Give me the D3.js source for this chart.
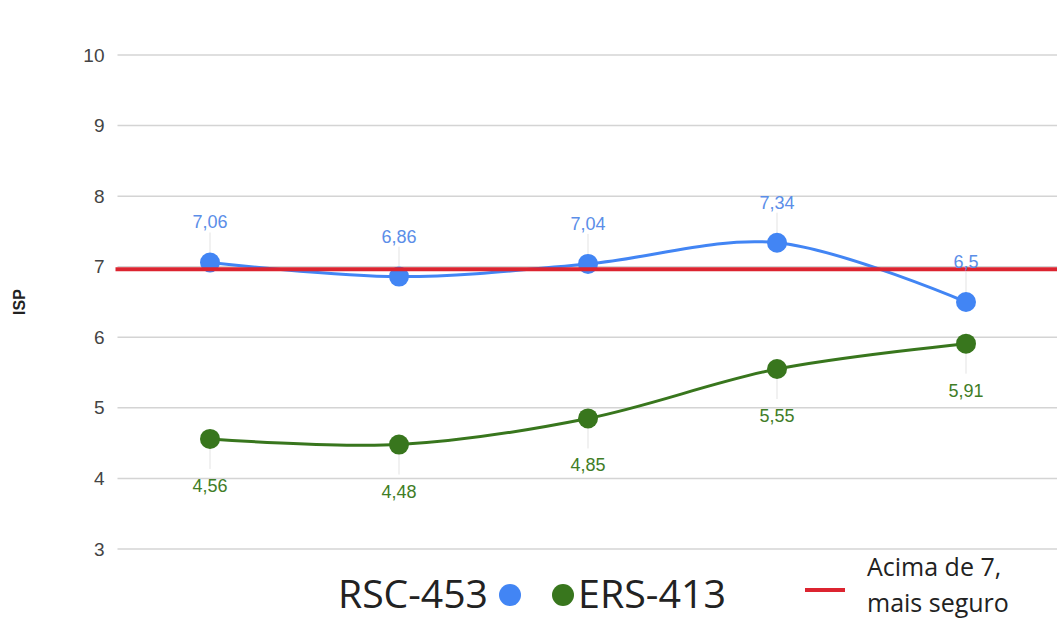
<!DOCTYPE html>
<html>
<head>
<meta charset="utf-8">
<script src="https://cdn.jsdelivr.net/npm/d3@7"></script>
<style>
  html, body { margin: 0; padding: 0; background: #fff; }
  svg { display: block; }
</style>
</head>
<body>
<svg id="chart" width="1057" height="619"></svg>
<script>
// ISP per period for two series, plus a reference threshold
const categories = ["P1", "P2", "P3", "P4", "P5"];
const rscValues = [7.06, 6.86, 7.04, 7.34, 6.5];
const ersValues = [4.56, 4.48, 4.85, 5.55, 5.91];
const threshold = 7;
const yTicks = [3, 4, 5, 6, 7, 8, 9, 10];
const seriesNames = ["RSC-453", "ERS-413"];
const thresholdLabel = ["Acima de 7,", "mais seguro"];

const svg = d3.select("#chart");
const W = 1057, H = 619;
const margin = { left: 115.5, right: -3.5, top: 55, bottom: 70 };

const x = d3.scalePoint()
  .domain(categories)
  .range([margin.left, W - margin.right])
  .padding(0.5);

const y = d3.scaleLinear()
  .domain([3, 10])
  .range([H - margin.bottom, margin.top]);

const blue = "#4285f4";
const green = "#38761d";
const red = "#dc2430";
const fmt = v => String(v).replace(".", ",");

// Gridlines
svg.append("g")
  .selectAll("line")
  .data(yTicks)
  .join("line")
  .attr("x1", margin.left + 2)
  .attr("x2", W)
  .attr("y1", d => y(d))
  .attr("y2", d => y(d))
  .attr("stroke", "#d4d4d4")
  .attr("stroke-width", 1.5);

// Y axis labels
const yAxis = d3.axisLeft(y).tickValues(yTicks).tickFormat(d3.format("d")).tickSize(0).tickPadding(0);
const gy = svg.append("g")
  .attr("transform", `translate(${margin.left - 11},0)`)
  .call(yAxis);
gy.select(".domain").remove();
gy.selectAll("text")
  .attr("font-family", "Liberation Sans, Arial, sans-serif")
  .attr("font-size", 19)
  .attr("fill", "#444");

// Axis title
svg.append("text")
  .attr("transform", `translate(25,${y(6.5)}) rotate(-90)`)
  .attr("text-anchor", "middle")
  .attr("font-family", "Liberation Sans, Arial, sans-serif")
  .attr("font-weight", "bold")
  .attr("font-size", 16)
  .attr("fill", "#222")
  .text("ISP");

const line = d3.line()
  .x((d, i) => x(categories[i]))
  .y(d => y(d))
  .curve(d3.curveCatmullRom.alpha(0.5));

// Leader lines for data labels
function leaders(values, dir) {
  svg.append("g")
    .selectAll("line")
    .data(values)
    .join("line")
    .attr("x1", (d, i) => x(categories[i]))
    .attr("x2", (d, i) => x(categories[i]))
    .attr("y1", d => y(d))
    .attr("y2", d => y(d) + dir * 30)
    .attr("stroke", "#e3e3e3")
    .attr("stroke-width", 1);
}
leaders(rscValues, -1);
leaders(ersValues, 1);

// Series lines
svg.append("path")
  .attr("d", line(ersValues))
  .attr("fill", "none")
  .attr("stroke", green)
  .attr("stroke-width", 3);

svg.append("path")
  .attr("d", line(rscValues))
  .attr("fill", "none")
  .attr("stroke", blue)
  .attr("stroke-width", 3);

// Points
function points(values, color) {
  svg.append("g")
    .selectAll("circle")
    .data(values)
    .join("circle")
    .attr("cx", (d, i) => x(categories[i]))
    .attr("cy", d => y(d))
    .attr("r", 10)
    .attr("fill", color);
}
points(ersValues, green);
points(rscValues, blue);

// Threshold line
svg.append("line")
  .attr("x1", margin.left)
  .attr("x2", W)
  .attr("y1", y(threshold) + 2.5)
  .attr("y2", y(threshold) + 2.5)
  .attr("stroke", red)
  .attr("stroke-width", 4);

// Data labels
function labels(values, color, dy) {
  svg.append("g")
    .selectAll("text")
    .data(values)
    .join("text")
    .attr("x", (d, i) => x(categories[i]))
    .attr("y", d => y(d) + dy)
    .attr("text-anchor", "middle")
    .attr("font-family", "Liberation Sans, Arial, sans-serif")
    .attr("font-size", 18)
    .attr("fill", color)
    .text(d => fmt(d));
}
labels(rscValues, "#5b8ee8", -34);
labels(ersValues, "#3f7d26", 53);

// Legend
const lg = svg.append("g").attr("font-family", "Open Sans, Noto Sans, sans-serif");
lg.append("text")
  .attr("x", 338).attr("y", 608)
  .attr("font-size", 38)
  .attr("textLength", 150)
  .attr("lengthAdjust", "spacingAndGlyphs")
  .attr("fill", "#222")
  .text(seriesNames[0]);
lg.append("circle").attr("cx", 510).attr("cy", 595).attr("r", 11).attr("fill", blue);
lg.append("circle").attr("cx", 563).attr("cy", 595).attr("r", 11).attr("fill", green);
lg.append("text")
  .attr("x", 578).attr("y", 608)
  .attr("font-size", 38)
  .attr("textLength", 148)
  .attr("lengthAdjust", "spacingAndGlyphs")
  .attr("fill", "#222")
  .text(seriesNames[1]);

lg.append("line")
  .attr("x1", 805).attr("x2", 845)
  .attr("y1", 590).attr("y2", 590)
  .attr("stroke", red)
  .attr("stroke-width", 4);
lg.selectAll("text.thr")
  .data(thresholdLabel)
  .join("text")
  .attr("class", "thr")
  .attr("x", 867)
  .attr("y", (d, i) => 576 + i * 36)
  .attr("font-size", 25)
  .attr("fill", "#222")
  .text(d => d);
</script>
</body>
</html>
